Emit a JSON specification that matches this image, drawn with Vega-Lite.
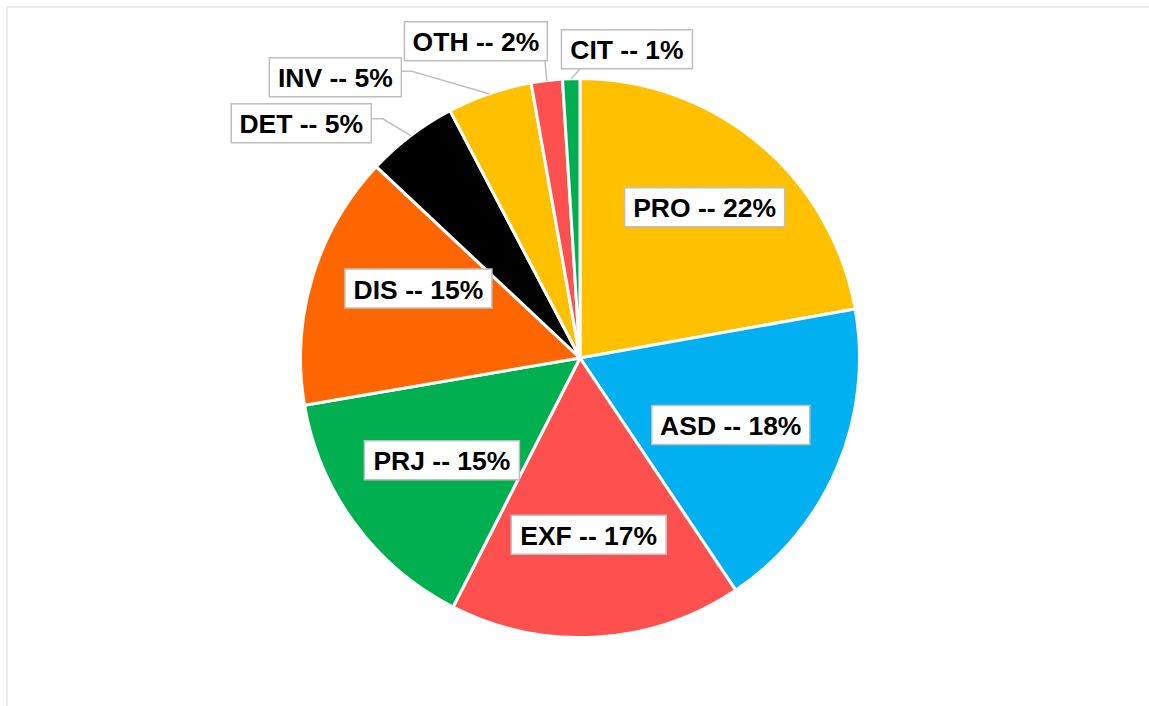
{
  "$schema": "https://vega.github.io/schema/vega-lite/v6.json",
  "width": 1147,
  "height": 703,
  "autosize": {"type": "none"},
  "padding": {"left": 6.5, "top": 6.5, "right": -4.5, "bottom": -3.5},
  "background": "white",
  "view": {"stroke": "#d9d9d9", "strokeWidth": 1},
  "config": {"view": {"stroke": "#d9d9d9", "strokeWidth": 1}},
  "params": [
    {"name": "lr", "value": {"PRO": 194, "ASD": 166, "EXF": 179, "PRJ": 174, "DIS": 175, "DET": 320, "INV": 320, "OTH": 320, "CIT": 320}},
    {"name": "ldx", "value": {"PRO": 0, "ASD": -2, "EXF": -2, "PRJ": 2, "DIS": 6, "DET": -85, "INV": -141, "OTH": -66, "CIT": 57}},
    {"name": "ldy", "value": {"PRO": 0, "ASD": 4, "EXF": 0, "PRJ": 1, "DIS": -17, "DET": 22, "INV": 24, "OTH": 3, "CIT": 13}},
    {"name": "bw", "value": {"PRO": 160, "ASD": 158, "EXF": 155, "PRJ": 155, "DIS": 147, "DET": 140, "INV": 132, "OTH": 143, "CIT": 131}},
    {"name": "lox", "value": {"DET": 70, "INV": 66, "OTH": 69, "CIT": -47}},
    {"name": "loy", "value": {"DET": -4.5, "INV": -6, "OTH": 19.5, "CIT": 19.5}},
    {"name": "lel", "value": {"DET": 11.5, "INV": 10.5, "OTH": 0, "CIT": 0}}
  ],
  "data": {
    "values": [
      {"cat": "PRO", "label": "PRO -- 22%", "share": 22.2, "order": 1},
      {"cat": "ASD", "label": "ASD -- 18%", "share": 18.4, "order": 2},
      {"cat": "EXF", "label": "EXF -- 17%", "share": 16.9, "order": 3},
      {"cat": "PRJ", "label": "PRJ -- 15%", "share": 14.8, "order": 4},
      {"cat": "DIS", "label": "DIS -- 15%", "share": 14.7, "order": 5},
      {"cat": "DET", "label": "DET -- 5%", "share": 5.3, "order": 6},
      {"cat": "INV", "label": "INV -- 5%", "share": 4.9, "order": 7},
      {"cat": "OTH", "label": "OTH -- 2%", "share": 1.8, "order": 8},
      {"cat": "CIT", "label": "CIT -- 1%", "share": 1.0, "order": 9}
    ]
  },
  "layer": [
    {
      "mark": {"type": "arc", "outerRadius": 279.5, "stroke": "white", "strokeWidth": 3},
      "encoding": {
        "theta": {"field": "share", "type": "quantitative", "stack": true},
        "order": {"field": "order", "type": "quantitative"},
        "color": {
          "field": "cat",
          "type": "nominal",
          "legend": null,
          "scale": {
            "domain": ["PRO", "ASD", "EXF", "PRJ", "DIS", "DET", "INV", "OTH", "CIT"],
            "range": ["#FFC000", "#00B0F0", "#FF5050", "#00B050", "#FF6600", "#000000", "#FFC000", "#FF5050", "#00B050"]
          }
        }
      }
    },
    {
      "transform": [
        {"stack": "share", "groupby": [], "sort": [{"field": "order", "order": "ascending"}], "offset": "normalize", "as": ["s0", "s1"]}
      ],
      "layer": [
        {
          "transform": [{"filter": {"field": "cat", "oneOf": ["DET", "INV", "OTH", "CIT"]}}],
          "mark": {
            "type": "point", "filled": false, "opacity": 1, "size": 4,
            "fill": "transparent", "stroke": "#bfbfbf", "strokeWidth": 1.5,
            "x": {"expr": "width/2+lr[datum.cat]*sin(PI*(datum.s0+datum.s1))+ldx[datum.cat]+lox[datum.cat]"},
            "y": {"expr": "height/2-lr[datum.cat]*cos(PI*(datum.s0+datum.s1))+ldy[datum.cat]-2+loy[datum.cat]"},
            "shape": {"expr": "'M0,0h'+lel[datum.cat]+'L'+((279-lr[datum.cat])*sin(PI*(datum.s0+datum.s1))-ldx[datum.cat]-lox[datum.cat])+','+(-(279-lr[datum.cat])*cos(PI*(datum.s0+datum.s1))-ldy[datum.cat]+2-loy[datum.cat])"}
          },
          "encoding": {}
        },
        {
          "mark": {
            "type": "point", "filled": true, "opacity": 1, "size": 4,
            "fill": "white", "stroke": "#bfbfbf", "strokeWidth": 1.5,
            "x": {"expr": "width/2+lr[datum.cat]*sin(PI*(datum.s0+datum.s1))+ldx[datum.cat]"},
            "y": {"expr": "height/2-lr[datum.cat]*cos(PI*(datum.s0+datum.s1))+ldy[datum.cat]-2"},
            "shape": {"expr": "'M'+(-bw[datum.cat]/2)+',-19.5h'+bw[datum.cat]+'v39h'+(-bw[datum.cat])+'z'"}
          },
          "encoding": {}
        },
        {
          "mark": {
            "type": "text", "font": "Liberation Sans", "fontWeight": "bold", "fontSize": 26.5,
            "align": "center", "baseline": "middle", "fill": "black",
            "x": {"expr": "width/2+lr[datum.cat]*sin(PI*(datum.s0+datum.s1))+ldx[datum.cat]"},
            "y": {"expr": "height/2-lr[datum.cat]*cos(PI*(datum.s0+datum.s1))+ldy[datum.cat]"}
          },
          "encoding": {"text": {"field": "label"}}
        }
      ]
    }
  ]
}
